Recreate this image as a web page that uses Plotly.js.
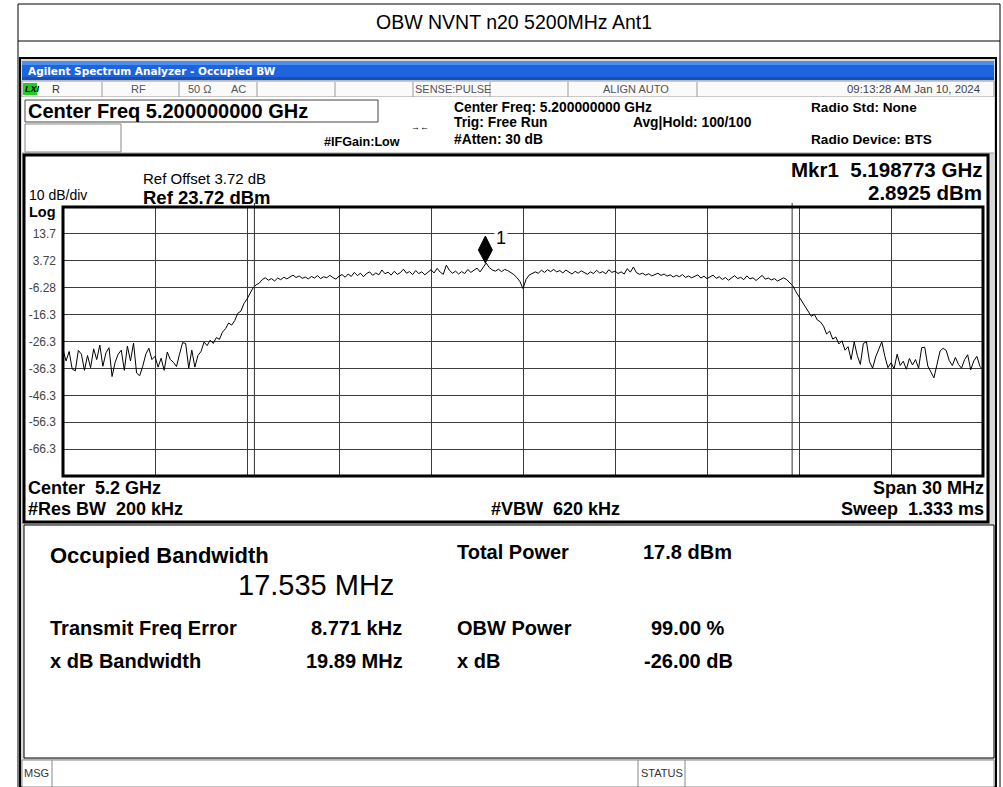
<!DOCTYPE html>
<html><head><meta charset="utf-8">
<script src="https://cdn.plot.ly/plotly-3.0.1.min.js"></script>
<style>html,body{margin:0;padding:0;background:#fff;overflow:hidden}#chart{width:1003px;height:787px}</style>
</head><body><div id="chart"></div>
<script>
// ---------------- data ----------------
const chartTitle = 'OBW NVNT n20 5200MHz Ant1';
const startFreqMHz = 5185;
const stepFreqMHz = 0.1;
const stopFreqMHz = 5215;
const centerFreqMHz = 5200;
const refLevel = 23.72;
const bottomLevel = -76.28;
const traceLevels = [
 -29.4,-33.5,-30.0,-36.5,-37.2,-29.6,-31.0,-37.0,-31.5,-36.0,
 -29.0,-33.0,-27.6,-35.5,-30.5,-28.6,-39.3,-34.0,-31.0,-29.5,
 -37.0,-28.0,-33.5,-26.9,-38.0,-39.0,-35.5,-31.0,-28.8,-33.0,
 -31.8,-35.8,-32.5,-37.0,-30.2,-33.0,-34.0,-35.6,-31.0,-26.7,
 -27.0,-36.2,-29.5,-35.8,-31.5,-30.0,-26.5,-27.8,-25.8,-27.0,
 -24.8,-25.5,-22.8,-21.5,-19.4,-20.2,-18.5,-15.8,-15.0,-12.2,
 -10.5,-8.6,-6.3,-5.2,-4.6,-3.2,-2.6,-3.5,-2.9,-3.8,
 -2.7,-3.3,-2.4,-3.0,-2.2,-1.6,-2.5,-1.9,-2.8,-2.3,
 -3.0,-2.1,-2.7,-1.8,-2.9,-2.2,-2.6,-1.7,-2.5,-3.1,
 -2.0,-1.4,-2.4,-1.2,-2.1,-0.6,-1.8,-0.9,-2.2,-1.0,
 -0.4,-1.7,-0.8,-1.5,0.3,-1.1,-0.5,-1.6,-0.2,-1.3,
 -0.7,0.6,-0.9,-0.3,-1.4,0.1,-1.0,-0.4,-1.5,-0.6,
 0.4,-0.8,0.9,-0.5,-1.3,2.1,0.2,-0.9,-0.1,-1.2,
 -0.3,-1.0,0.5,-0.6,0.2,1.0,-0.4,1.3,2.9,1.2,
 0.3,-0.1,0.6,-0.3,0.5,0.1,-0.6,-1.4,-2.5,-4.0,
 -6.6,-3.2,-1.6,-1.0,-0.4,-0.9,0.2,-0.6,0.4,-0.3,
 0.5,-0.4,0.1,-0.8,0.3,-0.5,-1.2,-0.2,-0.9,0.0,
 -0.7,-1.3,-0.4,-1.0,0.2,-0.8,-0.3,-1.1,0.4,-0.6,
 -0.1,-1.0,-0.4,-1.2,0.8,-0.5,1.4,-0.7,-1.3,-0.9,
 -1.6,-1.1,-1.9,-1.4,-0.9,-1.7,-1.2,-2.0,-1.5,-2.3,
 -1.7,-2.2,-1.4,-2.5,-1.9,-2.6,-2.1,-1.5,-2.7,-2.0,
 -2.9,-2.3,-1.6,-2.8,-2.2,-3.2,-2.5,-3.5,-2.6,-1.8,
 -2.9,-2.4,-3.3,-1.9,-3.0,-2.6,-3.6,-2.8,-1.7,-3.1,
 -2.7,-3.4,-2.9,-3.8,-3.1,-2.6,-3.3,-4.4,-5.6,-7.8,
 -9.6,-11.4,-13.5,-14.8,-16.9,-16.2,-18.3,-19.0,-20.6,-23.5,
 -22.4,-25.4,-24.6,-27.2,-26.0,-29.5,-28.2,-33.0,-26.4,-31.5,
 -34.8,-27.0,-26.4,-33.8,-36.2,-32.0,-29.5,-26.4,-31.8,-36.0,
 -34.2,-36.4,-31.0,-35.2,-33.6,-36.6,-32.6,-35.0,-33.0,-36.2,
 -28.6,-28.4,-35.4,-37.5,-39.8,-34.8,-29.8,-28.8,-29.6,-33.4,
 -35.2,-32.2,-34.8,-36.2,-33.0,-31.2,-36.8,-33.5,-31.8,-35.5,
 -36.8
];
const yTickValues = [13.72, 3.72, -6.28, -16.28, -26.28, -36.28, -46.28, -56.28, -66.28];
const yTickLabels = ['13.7', '3.72', '-6.28', '-16.3', '-26.3', '-36.3', '-46.3', '-56.3', '-66.3'];
const markerFreqMHz = 5198.773;
const markerLevel = 2.8925;
const obwMHz = 17.535;
const freqErrorMHz = 0.008771;

// ---------------- helpers ----------------
const W = 1003, H = 787;
const X = p => p / W;
const Y = p => 1 - p / H;
const FONT = 'Liberation Sans, Arial, sans-serif';
const shapes = [];
const ann = [];
function rect(x0, y0, x1, y1, fill, line, lw) {
  shapes.push({type:'rect', xref:'paper', yref:'paper', x0:X(x0), x1:X(x1), y0:Y(y1), y1:Y(y0),
    fillcolor: fill || 'rgba(0,0,0,0)', line:{color: line || 'rgba(0,0,0,0)', width: lw === undefined ? 1 : lw}, layer:'below'});
}
function hline(x0, x1, y, color, lw, layer) {
  shapes.push({type:'line', xref:'paper', yref:'paper', x0:X(x0), x1:X(x1), y0:Y(y), y1:Y(y), line:{color, width:lw||1}, layer: layer||'below'});
}
function vline(x, y0, y1, color, lw, layer) {
  shapes.push({type:'line', xref:'paper', yref:'paper', x0:X(x), x1:X(x), y0:Y(y0), y1:Y(y1), line:{color, width:lw||1}, layer: layer||'below'});
}
function txt(x, y, text, size, opt) {
  opt = opt || {};
  ann.push({xref:'paper', yref:'paper', x:X(x), y:Y(y), text, showarrow:false,
    xanchor: opt.anchor || 'left', yanchor:'middle',
    font:{family: opt.family || FONT, size, color: opt.color || '#000'},
    bgcolor: opt.bg || 'rgba(0,0,0,0)', borderpad: 0});
}

// ---------------- page frame ----------------
hline(18, 1000, 4, '#000', 1);
hline(18, 1000, 41, '#000', 1);
vline(18, 4, 787, '#000', 1);
vline(1000, 4, 787, '#000', 1);
txt(514, 22, chartTitle, 19.5, {anchor:'center'});

// ---------------- analyzer window ----------------
rect(20, 58, 996, 787, '#d8d8d8', '#000', 2);
rect(22, 61, 994, 80, '#1e64de', null, 0);
rect(22, 61, 994, 65, '#4d8ff0', null, 0);
rect(22, 77, 994, 80, '#1450b8', null, 0);
txt(27, 71, '<b>Agilent Spectrum Analyzer - Occupied BW</b>', 10.5, {color:'#fff', family:'DejaVu Sans, sans-serif'});
// status row
rect(22, 81, 994, 97, '#fafafa', '#9a9a9a', 1);
rect(23, 83, 37, 95, '#22cc22', null, 0);
txt(24, 89, '<b><i>LXI</i></b>', 9, {color:'#000'});
txt(51, 89, 'R', 11, {color:'#333'});
[102, 179, 257, 335, 413, 490, 568, 697].forEach(x => vline(x, 82, 97, '#9a9a9a', 1));
txt(138, 89, 'RF', 11, {anchor:'center', color:'#555'});
txt(187, 89, '50 Ω', 11, {color:'#555'});
txt(230, 89, 'AC', 11, {color:'#555'});
txt(453, 89, 'SENSE:PULSE', 11, {anchor:'center', color:'#555'});
txt(636, 89, 'ALIGN AUTO', 11, {anchor:'center', color:'#555'});
txt(981, 89, '09:13:28 AM Jan 10, 2024', 11.4, {anchor:'right', color:'#444'});
// settings area
rect(22, 97, 994, 153, '#fff', null, 0);
hline(22, 994, 153, '#9a9a9a', 1);
rect(25, 100, 378, 122, '#fff', '#444', 1);
txt(27, 111, '<b>Center Freq 5.200000000 GHz</b>', 20);
rect(25, 124, 121, 152, '#fff', '#888', 1);
txt(323, 142, '<b>#IFGain:Low</b>', 12.6);
txt(420, 127, '→←', 9, {anchor:'center'});
txt(453, 107, '<b>Center Freq: 5.200000000 GHz</b>', 13.8);
txt(453, 123, '<b>Trig: Free Run</b>', 13.8);
txt(453, 140, '<b>#Atten: 30 dB</b>', 13.8);
txt(632, 123, '<b>Avg|Hold: 100/100</b>', 13.8);
txt(810, 107, '<b>Radio Std: None</b>', 13.6);
txt(810, 140, '<b>Radio Device: BTS</b>', 13.6);

// plot window
rect(24, 155, 988, 522, '#fff', '#000', 3);
txt(142, 178, 'Ref Offset 3.72 dB', 15);
txt(142, 197, '<b>Ref 23.72 dBm</b>', 18.5);
txt(28, 195, '10 dB/div', 14);
txt(28, 212, '<b>Log</b>', 14.5);
txt(983, 169, '<b>Mkr1  5.198773 GHz</b>', 20.5, {anchor:'right'});
txt(983, 192, '<b>2.8925 dBm</b>', 20.5, {anchor:'right'});
txt(27, 488, '<b>Center  5.2 GHz</b>', 18);
txt(27, 509, '<b>#Res BW  200 kHz</b>', 18);
txt(555, 509, '<b>#VBW  620 kHz</b>', 18, {anchor:'center'});
txt(985, 488, '<b>Span 30 MHz</b>', 18, {anchor:'right'});
txt(985, 509, '<b>Sweep  1.333 ms</b>', 18, {anchor:'right'});

// results pane
rect(24, 525, 994, 758, '#fff', '#000', 1);
txt(49, 555, '<b>Occupied Bandwidth</b>', 22);
txt(237, 585, obwMHz.toFixed(3) + ' MHz', 29);
txt(456, 552, '<b>Total Power</b>', 20);
txt(642, 552, '<b>17.8 dBm</b>', 20);
txt(49, 628, '<b>Transmit Freq Error</b>', 20);
txt(310, 628, '<b>' + (freqErrorMHz * 1000).toFixed(3) + ' kHz</b>', 20);
txt(456, 628, '<b>OBW Power</b>', 20);
txt(650, 628, '<b>99.00 %</b>', 20);
txt(49, 661, '<b>x dB Bandwidth</b>', 20);
txt(305, 661, '<b>19.89 MHz</b>', 20);
txt(456, 661, '<b>x dB</b>', 20);
txt(643, 661, '<b>-26.00 dB</b>', 20);

// message bar
rect(22, 760, 994, 787, '#fff', '#888', 1);
vline(52, 760, 787, '#888', 1);
vline(638, 760, 787, '#888', 1);
vline(685, 760, 787, '#888', 1);
txt(23, 773, 'MSG', 11, {color:'#333'});
txt(640, 773, 'STATUS', 11, {color:'#333'});

// ---------------- plot marks ----------------
const obwLeft = centerFreqMHz + freqErrorMHz - obwMHz / 2;
const obwRight = centerFreqMHz + freqErrorMHz + obwMHz / 2;
[obwLeft, obwRight].forEach(f => {
  shapes.push({type:'line', xref:'x', yref:'paper', x0:f, x1:f, y0:Y(476), y1:Y(203), line:{color:'#333', width:1}, layer:'above'});
});
// plot frame
shapes.push({type:'rect', xref:'x domain', yref:'y domain', x0:0, x1:1, y0:0, y1:1, line:{color:'#000', width:3}, layer:'above'});
// marker diamond
shapes.push({type:'path', xref:'x', yref:'y', xsizemode:'pixel', ysizemode:'pixel',
  xanchor: markerFreqMHz, yanchor: markerLevel, path:'M0,0 L-7,13 L0,27 L7,13 Z',
  fillcolor:'#000', line:{color:'#000', width:1}, layer:'above'});
ann.push({xref:'x', yref:'y', x: markerFreqMHz, y: markerLevel, text:'1', showarrow:false,
  xshift:16, yshift:25, font:{family:FONT, size:18, color:'#000'}, bgcolor:'#fff', borderpad:1});

const trace = {
  type:'scatter', mode:'lines', x0:startFreqMHz, dx:stepFreqMHz, y:traceLevels,
  line:{color:'#000', width:1}, hoverinfo:'skip', showlegend:false
};

const layout = {
  width:W, height:H, margin:{l:0, r:0, t:0, b:0},
  paper_bgcolor:'#fff', plot_bgcolor:'#fff', showlegend:false,
  xaxis:{domain:[X(63), X(983)], range:[startFreqMHz, stopFreqMHz], tick0:startFreqMHz, dtick:3,
    showgrid:true, gridcolor:'#3c3c3c', gridwidth:1, showticklabels:false, zeroline:false, showline:false, ticks:''},
  yaxis:{domain:[Y(476), Y(207)], range:[bottomLevel, refLevel], tickvals:yTickValues, ticktext:yTickLabels,
    showgrid:true, gridcolor:'#3c3c3c', gridwidth:1, zeroline:false, showline:false, ticks:'', ticklabelstandoff:6,
    tickfont:{family:FONT, size:12, color:'#444'}},
  shapes, annotations:ann
};
Plotly.newPlot('chart', [trace], layout, {displayModeBar:false, staticPlot:true});
</script></body></html>
